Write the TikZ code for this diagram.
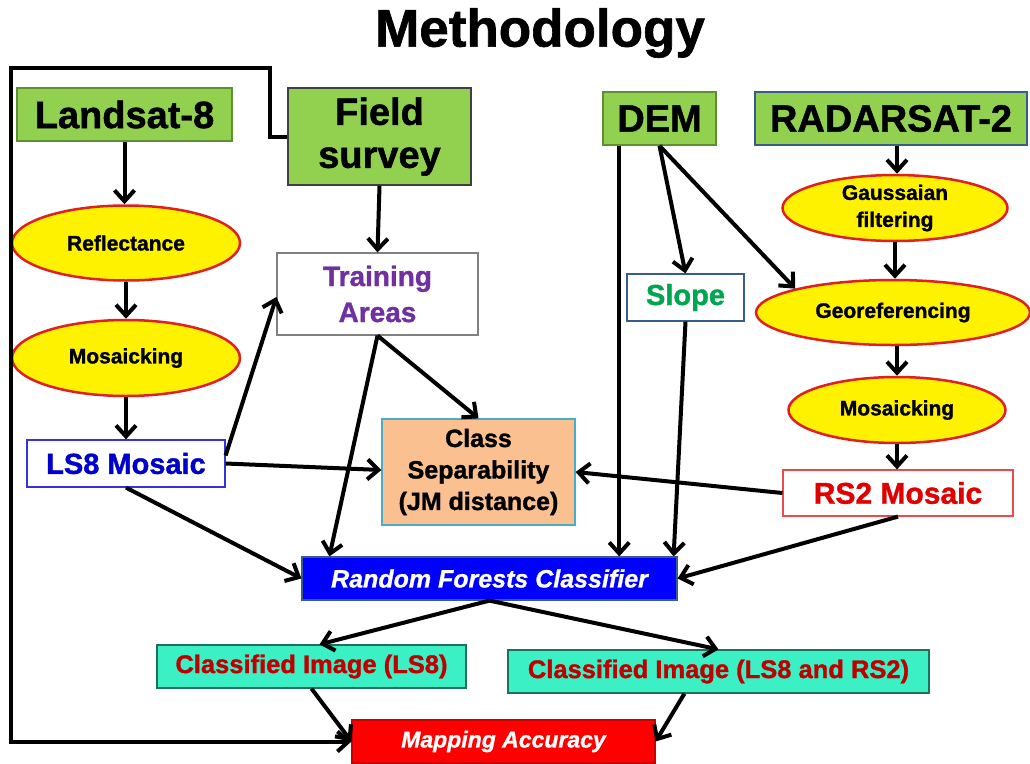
\documentclass[tikz,border=0pt]{standalone}
\usepackage{fontspec}
\setmainfont{Liberation Sans}[BoldFeatures={FakeBold=1.2},BoldItalicFeatures={FakeBold=1}]
\usetikzlibrary{shapes.geometric,arrows.meta}
\definecolor{gfill}{HTML}{92D050}
\definecolor{gline}{HTML}{5E8F33}
\definecolor{radline}{HTML}{385D8A}
\definecolor{ellred}{HTML}{E02020}
\definecolor{ls8blue}{HTML}{0000CC}
\definecolor{tapurple}{HTML}{7030A0}
\definecolor{slgreen}{HTML}{00A550}
\definecolor{rsred}{HTML}{E00000}
\definecolor{csfill}{HTML}{FAC090}
\definecolor{csline}{HTML}{4BACC6}
\definecolor{cifill}{HTML}{3CF0C6}
\definecolor{ciline}{HTML}{1F6F5F}
\definecolor{citext}{HTML}{C00000}
\begin{document}
\begin{tikzpicture}[x=1pt,y=-1pt,
  gbox/.style={draw=gline,fill=gfill,line width=1.5pt,inner sep=0pt,align=center,
    font=\fontsize{38}{43}\selectfont\bfseries},
  ellbox/.style={ellipse,draw=ellred,fill=yellow,line width=2.5pt,inner sep=0pt,align=center,
    font=\fontsize{21}{27}\selectfont\bfseries},
  wbox/.style={draw,fill=white,line width=1.2pt,inner sep=0pt,align=center},
  arr/.style={line width=4pt,-{Straight Barb[length=11pt,width=20pt]}},
  fbline/.style={line width=4pt,-{Straight Barb[length=11pt,width=20pt]}}
]
\useasboundingbox (0,0) rectangle (1030,763);
\fill[white] (0,0) rectangle (1030,763);

\node[font=\fontsize{53}{60}\selectfont\bfseries] (title) at (540,33) {Methodology};

% sources
\node[gbox,minimum width=215pt,minimum height=53pt] (l8) at (124.5,114.5) {Landsat-8};
\node[gbox,draw=darkgray,minimum width=183pt,minimum height=97pt] (fs) at (379.5,136.5) {Field\\survey};
\node[gbox,minimum width=113pt,minimum height=53pt] (dem) at (659.5,118.5) {DEM};
\node[gbox,draw=radline,minimum width=272pt,minimum height=53pt] (rad) at (891,118.5) {RADARSAT-2};

% Landsat chain
\node[ellbox,minimum width=228pt,minimum height=75pt] (refl) at (126,243) {Reflectance};
\node[ellbox,minimum width=228pt,minimum height=76pt] (lmos) at (126,358) {Mosaicking};
\node[wbox,draw=ls8blue!80,text=ls8blue,minimum width=198pt,minimum height=47pt,
  font=\fontsize{29}{34}\selectfont\bfseries] (ls8) at (126,463.5) {LS8 Mosaic};

% training
\node[wbox,draw=gray,text=tapurple,minimum width=201pt,minimum height=82pt,
  font=\fontsize{28}{36}\selectfont\bfseries] (ta) at (377.5,294) {Training\\Areas};
\node[wbox,draw=csline,fill=csfill,minimum width=193pt,minimum height=106pt,
  font=\fontsize{25}{31.5}\selectfont\bfseries] (cs) at (478.5,472) {Class\\Separability\\(JM distance)};

% DEM
\node[wbox,draw=radline,text=slgreen,minimum width=117pt,minimum height=47pt,
  font=\fontsize{29}{34}\selectfont\bfseries] (sl) at (685.5,297.5) {Slope};

% Radarsat chain
\node[ellbox,minimum width=225pt,minimum height=65pt] (gau) at (895,208) {Gaussaian\\filtering};
\node[ellbox,minimum width=274pt,minimum height=65pt] (geo) at (893,312.5) {Georeferencing};
\node[ellbox,minimum width=217pt,minimum height=66pt] (rmos) at (897,410) {Mosaicking};
\node[wbox,draw=rsred!70,text=rsred,minimum width=230pt,minimum height=46pt,
  font=\fontsize{30}{34}\selectfont\bfseries] (rs2) at (898,493) {RS2 Mosaic};

% classifier and outputs
\node[wbox,draw=radline,fill=blue,text=white,minimum width=375pt,minimum height=43pt,
  font=\fontsize{25}{30}\selectfont\bfseries\itshape] (rf) at (489.5,578.5) {Random Forests Classifier};
\node[wbox,draw=ciline,fill=cifill,text=citext,minimum width=309pt,minimum height=43pt,
  font=\fontsize{25.5}{30}\selectfont\bfseries] (ci1) at (311.5,666.5) {Classified Image (LS8)};
\node[wbox,draw=ciline,fill=cifill,text=citext,minimum width=421pt,minimum height=43pt,
  font=\fontsize{25.5}{30}\selectfont\bfseries] (ci2) at (718.5,671.5) {Classified Image (LS8 and RS2)};
\node[wbox,draw=red!80!black,fill=red,text=white,minimum width=303pt,minimum height=43pt,
  font=\fontsize{23}{28}\selectfont\bfseries\itshape] (ma) at (503.5,741.5) {Mapping Accuracy};

% coordinates
\coordinate (fbtop) at (270,68);
\coordinate (fbleft) at (11,68);
\coordinate (demL) at ([xshift=17pt]dem.south west);
\coordinate (radS) at ([xshift=6pt]rad.south);

% arrows
\draw[arr] (l8.south) -- (l8.south |- refl.north);
\draw[arr] (refl.south) -- (lmos.north);
\draw[arr] (lmos.south) -- (ls8.north);
\draw[arr] ([yshift=8pt]ls8.east) -- ([yshift=-3pt]ta.west);
\draw[arr] (ls8.east) -- ([yshift=2pt]cs.west);
\draw[arr] (ls8.south) -- (rf.west);
\draw[arr] (fs.south) -- (ta.north);
\draw[arr] (ta.south) -- ([xshift=28pt]rf.north west);
\draw[arr] (ta.south) -- (cs.north);
\draw[arr] (demL) -- (demL |- rf.north);
\draw[arr] (dem.south) -- (sl.north);
\draw[arr] (dem.south) -- (geo.north west);
\draw[arr] (sl.south) -- ([xshift=-4pt]rf.north east);
\draw[arr] (radS) -- (radS |- gau.north);
\draw[arr] (gau.south) -- (gau.south |- geo.north);
\draw[arr] (rmos.north |- geo.south) -- (rmos.north);
\draw[arr] (rmos.south) -- (rmos.south |- rs2.north);
\draw[arr] (rs2.west) -- (cs.east);
\draw[arr] (rs2.south) -- (rf.east);
\draw[arr] (rf.south) -- ([xshift=8pt]ci1.north);
\draw[arr] (rf.south) -- (ci2.north);
\draw[arr] (ci1.south) -- (ma.west);
\draw[arr] ([xshift=177pt]ci2.south west) -- (ma.east);
\draw[fbline] (fs.west) -| (fbtop) -- (fbleft) |- (ma.west);
\end{tikzpicture}
\end{document}
